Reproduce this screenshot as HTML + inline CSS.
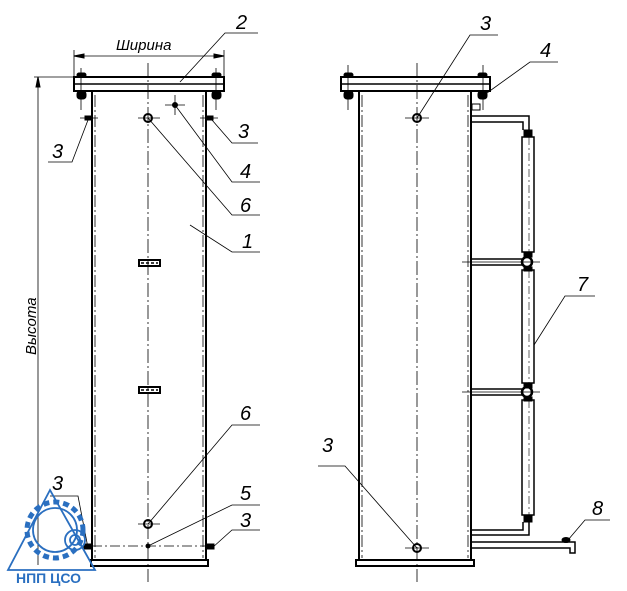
<!DOCTYPE html>
<html><head><meta charset="utf-8"><style>body{margin:0;background:#fff}svg{display:block}text{font-family:"Liberation Sans",sans-serif;font-style:italic}</style></head><body>
<svg width="627" height="591" viewBox="0 0 627 591" xmlns="http://www.w3.org/2000/svg">
<g stroke="#000" fill="none">
<!-- LEFT VIEW -->
<line x1="74" y1="50" x2="74" y2="77" stroke-width="0.8"/>
<line x1="224" y1="50" x2="224" y2="77" stroke-width="0.8"/>
<line x1="74" y1="56" x2="224" y2="56" stroke-width="0.8"/>
<path d="M74 56 l10 -2 v4z M224 56 l-10 -2 v4z" fill="#000"/>
<line x1="34" y1="77" x2="74" y2="77" stroke-width="0.8"/>
<line x1="38" y1="77" x2="38" y2="565" stroke-width="0.8"/>
<path d="M38 77 l-2 10 h4z" fill="#000"/>
<rect x="74" y="77" width="150" height="14" stroke-width="2"/>
<line x1="74" y1="84" x2="224" y2="84" stroke-width="1.5"/>
<rect x="77" y="73" width="9" height="4" rx="2" fill="#000"/><rect x="77" y="91" width="9" height="8" rx="3" fill="#000"/>
<rect x="212" y="73" width="9" height="4" rx="2" fill="#000"/><rect x="212" y="91" width="9" height="8" rx="3" fill="#000"/>
<line x1="81" y1="68" x2="81" y2="110" stroke-width="0.8"/><line x1="216" y1="68" x2="216" y2="110" stroke-width="0.8"/>
<line x1="92" y1="91" x2="92" y2="560" stroke-width="2"/>
<line x1="206" y1="91" x2="206" y2="560" stroke-width="2"/>
<line x1="95" y1="95" x2="95" y2="558" stroke-width="0.8" stroke-dasharray="12 3 2 3"/>
<line x1="203" y1="95" x2="203" y2="558" stroke-width="0.8" stroke-dasharray="12 3 2 3"/>
<line x1="148" y1="63" x2="148" y2="582" stroke-width="0.8" stroke-dasharray="14 3 2 3"/>
<rect x="91" y="560" width="117" height="6" stroke-width="2"/>
<circle cx="148" cy="118" r="4" stroke-width="2"/>
<line x1="138" y1="118" x2="160" y2="118" stroke-width="0.8"/>
<circle cx="175" cy="105" r="2.5" fill="#000"/>
<line x1="165" y1="105" x2="185" y2="105" stroke-width="0.8"/><line x1="175" y1="95" x2="175" y2="115" stroke-width="0.8"/>
<rect x="85" y="116" width="7" height="4" fill="#000"/><rect x="206" y="116" width="7" height="4" fill="#000"/>
<line x1="80" y1="118" x2="98" y2="118" stroke-width="0.8"/><line x1="200" y1="118" x2="218" y2="118" stroke-width="0.8"/>
<rect x="139" y="260" width="21" height="6" stroke-width="2"/><line x1="141" y1="263" x2="158" y2="263" stroke-dasharray="3 2" stroke-width="1.5"/>
<rect x="139" y="387" width="21" height="6" stroke-width="2"/><line x1="141" y1="390" x2="158" y2="390" stroke-dasharray="3 2" stroke-width="1.5"/>
<circle cx="148" cy="524" r="4" stroke-width="2"/>
<line x1="138" y1="524" x2="160" y2="524" stroke-width="0.8"/>
<circle cx="148" cy="546" r="2" fill="#000"/>
<line x1="92" y1="546" x2="206" y2="546" stroke-width="0.8" stroke-dasharray="10 3 2 3"/>
<rect x="84" y="544" width="8" height="5" fill="#000"/><rect x="206" y="544" width="8" height="5" fill="#000"/>
<g stroke-width="0.8">
<polyline points="180,82 225,33 258,33"/>
<polyline points="88,120 72,162 48,162"/>
<polyline points="212,120 232,143 258,143"/>
<polyline points="175,105 232,182 260,182"/>
<polyline points="148,118 232,215 260,215"/>
<polyline points="190,225 232,252 260,252"/>
<polyline points="148,524 232,425 260,425"/>
<polyline points="148,546 232,505 260,505"/>
<polyline points="212,548 232,530 260,530"/>
<polyline points="88,548 78,496 50,496"/>
</g>
<!-- RIGHT VIEW -->
<rect x="341" y="77" width="149" height="14" stroke-width="2"/>
<line x1="341" y1="84" x2="490" y2="84" stroke-width="1.5"/>
<rect x="344" y="73" width="9" height="4" rx="2" fill="#000"/><rect x="344" y="91" width="9" height="8" rx="3" fill="#000"/>
<rect x="478" y="73" width="9" height="4" rx="2" fill="#000"/><rect x="478" y="91" width="9" height="8" rx="3" fill="#000"/>
<line x1="348" y1="65" x2="348" y2="110" stroke-width="0.8"/><line x1="483" y1="65" x2="483" y2="110" stroke-width="0.8"/>
<line x1="359" y1="91" x2="359" y2="560" stroke-width="2"/>
<line x1="471" y1="91" x2="471" y2="560" stroke-width="2"/>
<line x1="362" y1="95" x2="362" y2="558" stroke-width="0.8" stroke-dasharray="12 3 2 3"/>
<line x1="468" y1="95" x2="468" y2="558" stroke-width="0.8" stroke-dasharray="12 3 2 3"/>
<line x1="417" y1="63" x2="417" y2="582" stroke-width="0.8" stroke-dasharray="14 3 2 3"/>
<rect x="356" y="560" width="118" height="6" stroke-width="2"/>
<circle cx="417" cy="118" r="4" stroke-width="2"/>
<line x1="405" y1="118" x2="429" y2="118" stroke-width="0.8"/>
<circle cx="417" cy="548" r="4" stroke-width="2"/>
<line x1="405" y1="548" x2="429" y2="548" stroke-width="0.8"/>
<g stroke-width="1.5">
<path d="M471 116 H529 V130 M471 122 H523 V130"/>
<rect x="522" y="137" width="12" height="115"/>
<line x1="529" y1="137" x2="529" y2="252" stroke-width="0.6" stroke-dasharray="8 3 2 3"/>
<path d="M471 259 H522 M471 265 H522"/>
<circle cx="527" cy="262" r="5" stroke-width="2.5"/>
<rect x="522" y="270" width="12" height="113"/>
<line x1="529" y1="270" x2="529" y2="383" stroke-width="0.6" stroke-dasharray="8 3 2 3"/>
<path d="M471 389 H522 M471 395 H522"/>
<circle cx="527" cy="392" r="5" stroke-width="2.5"/>
<rect x="522" y="400" width="12" height="115"/>
<line x1="529" y1="400" x2="529" y2="515" stroke-width="0.6" stroke-dasharray="8 3 2 3"/>
<path d="M529 522 V535 H471 M523 522 V530 H471"/>
<path d="M471 542 H575 V553 H570 V548 H471"/>
</g>
<rect x="524" y="130" width="8" height="7" fill="#000"/><rect x="524" y="515" width="8" height="7" fill="#000"/>
<rect x="524" y="252" width="8" height="5" fill="#000"/><rect x="524" y="267" width="8" height="4" fill="#000"/>
<rect x="524" y="383" width="8" height="5" fill="#000"/><rect x="524" y="397" width="8" height="4" fill="#000"/>
<ellipse cx="566" cy="540" rx="4" ry="2.5" fill="#000"/>
<rect x="472" y="104" width="8" height="6" stroke-width="1"/>
<g stroke-width="0.8">
<line x1="462" y1="262" x2="540" y2="262"/><line x1="462" y1="392" x2="540" y2="392"/>
<polyline points="417,118 470,35 498,35"/>
<polyline points="480,98 530,62 558,62"/>
<polyline points="417,548 345,466 318,466"/>
<polyline points="534,345 565,296 595,296"/>
<polyline points="568,540 585,520 610,520"/>
</g>
</g>
<g font-size="20" fill="#000">
<text x="116" y="50" font-size="15">Ширина</text>
<text x="236" y="29">2</text>
<text x="52" y="158">3</text>
<text x="238" y="138">3</text>
<text x="240" y="178">4</text>
<text x="240" y="212">6</text>
<text x="242" y="248">1</text>
<text x="240" y="420">6</text>
<text x="240" y="500">5</text>
<text x="240" y="527">3</text>
<text x="52" y="490">3</text>
<text x="480" y="30">3</text>
<text x="540" y="57">4</text>
<text x="322" y="452">3</text>
<text x="577" y="291">7</text>
<text x="592" y="515">8</text>
<text transform="translate(36,355) rotate(-90)" font-size="15">Высота</text>
</g>
<g stroke="#2a6fc0" fill="none" stroke-width="1.8">
<path d="M50 490 L8 570 L95 570 Z"/>
<circle cx="55" cy="530" r="22"/>
<circle cx="55" cy="530" r="28" stroke-dasharray="6 4" stroke-width="5"/>
<circle cx="75" cy="540" r="10"/>
<circle cx="75" cy="540" r="5"/>
</g>
<text x="16" y="583" font-size="14" font-weight="bold" fill="#2a6fc0" style="font-style:normal">НПП ЦСО</text>
</svg>
</body></html>
